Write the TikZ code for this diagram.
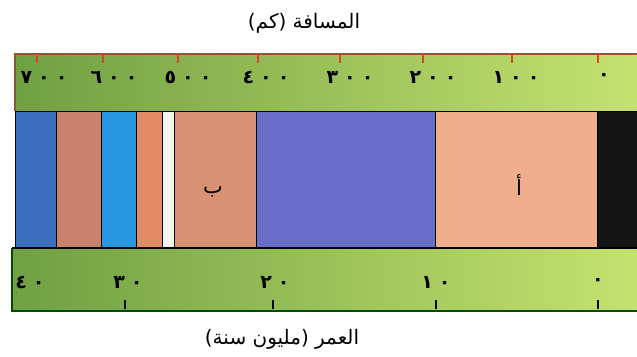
\documentclass[tikz,border=0pt]{standalone}
\usepackage{fontspec}
\setmainfont{DejaVu Sans}
\newfontfamily\arabicfont[Script=Arabic]{DejaVu Sans}
\TeXXeTstate=1
\definecolor{barL}{RGB}{112,160,66}
\definecolor{barR}{RGB}{196,226,112}
\definecolor{edgered}{RGB}{150,80,55}
\definecolor{tickred}{RGB}{215,70,40}
\definecolor{cA}{RGB}{60,110,190}
\definecolor{cB}{RGB}{200,130,110}
\definecolor{cC}{RGB}{40,150,225}
\definecolor{cD}{RGB}{225,140,100}
\definecolor{cE}{RGB}{245,245,240}
\definecolor{cF}{RGB}{215,145,115}
\definecolor{cG}{RGB}{105,110,200}
\definecolor{cH}{RGB}{240,175,140}
\definecolor{cI}{RGB}{20,20,20}
\newcommand{\dg}{\hspace{6pt}}
\begin{document}
\begin{tikzpicture}[x=1pt,y=-1pt,
  title/.style={font=\arabicfont\fontsize{20}{23}\selectfont, inner sep=0pt},
  numlab/.style={font=\arabicfont\bfseries\fontsize{19}{21}\selectfont, inner sep=0pt},
  cell/.style={draw=black, line width=1pt},
  celllab/.style={font=\arabicfont\fontsize{21}{24}\selectfont, inner sep=0pt},
  toptick/.style={draw=tickred, line width=1.4pt},
  bottick/.style={draw=black, line width=1.4pt}]
\useasboundingbox (0,0) rectangle (637,356);
\fill[white] (0,0) rectangle (637,356);
% top scale bar
\shade[left color=barL, right color=barR] (15,54) rectangle (637,111);
\draw[edgered, line width=1.5pt] (15,111) -- (15,54) -- (637,54);
\foreach \x in {37,103,178,258,340,423,512,598}
  \draw[toptick] (\x,54) -- (\x,63);
% middle columns
\filldraw[cell, fill=cA] (15,111) rectangle (56,248);
\filldraw[cell, fill=cB] (56,111) rectangle (101,248);
\filldraw[cell, fill=cC] (101,111) rectangle (136,248);
\filldraw[cell, fill=cD] (136,111) rectangle (162,248);
\filldraw[cell, fill=cE] (162,111) rectangle (174,248);
\filldraw[cell, fill=cF] (174,111) rectangle (256,248);
\filldraw[cell, fill=cG] (256,111) rectangle (435,248);
\filldraw[cell, fill=cH] (435,111) rectangle (597,248);
\filldraw[cell, fill=cI] (597,111) rectangle (640,248);
% bottom scale bar
\shade[left color=barL, right color=barR] (12,248) rectangle (637,311);
\draw[black, line width=1.2pt] (12,248) -- (637,248);
\draw[black!70!green, line width=1.5pt] (12,248) -- (12,311) -- (637,311);
\foreach \x in {125,273,436,598}
  \draw[bottick] (\x,300) -- (\x,309);
% titles
\node[title] (dist) at (304,23) {\beginR المسافة (كم)\endR};
\node[title] (age) at (282,339) {\beginR العمر (مليون سنة)\endR};
% top numbers
\node[numlab] (d700) at (44,77) {٧\dg٠\dg٠};
\node[numlab] (d600) at (114,77) {٦\dg٠\dg٠};
\node[numlab] (d500) at (188,77) {٥\dg٠\dg٠};
\node[numlab] (d400) at (266,77) {٤\dg٠\dg٠};
\node[numlab] (d300) at (350,77) {٣\dg٠\dg٠};
\node[numlab] (d200) at (433,77) {٢\dg٠\dg٠};
\node[numlab] (d100) at (516,77) {١\dg٠\dg٠};
\node[numlab] (d0) at (604,77) {٠};
% bottom numbers
\node[numlab] (a40) at (30,282) {٤\dg٠};
\node[numlab] (a30) at (128,282) {٣\dg٠};
\node[numlab] (a20) at (275,282) {٢\dg٠};
\node[numlab] (a10) at (436,282) {١\dg٠};
\node[numlab] (a0) at (598,282) {٠};
% cell labels
\node[celllab] (lb) at (213,192) {\beginR ب\endR};
\node[celllab] (la) at (519,185) {\beginR أ\endR};
\end{tikzpicture}
\end{document}
